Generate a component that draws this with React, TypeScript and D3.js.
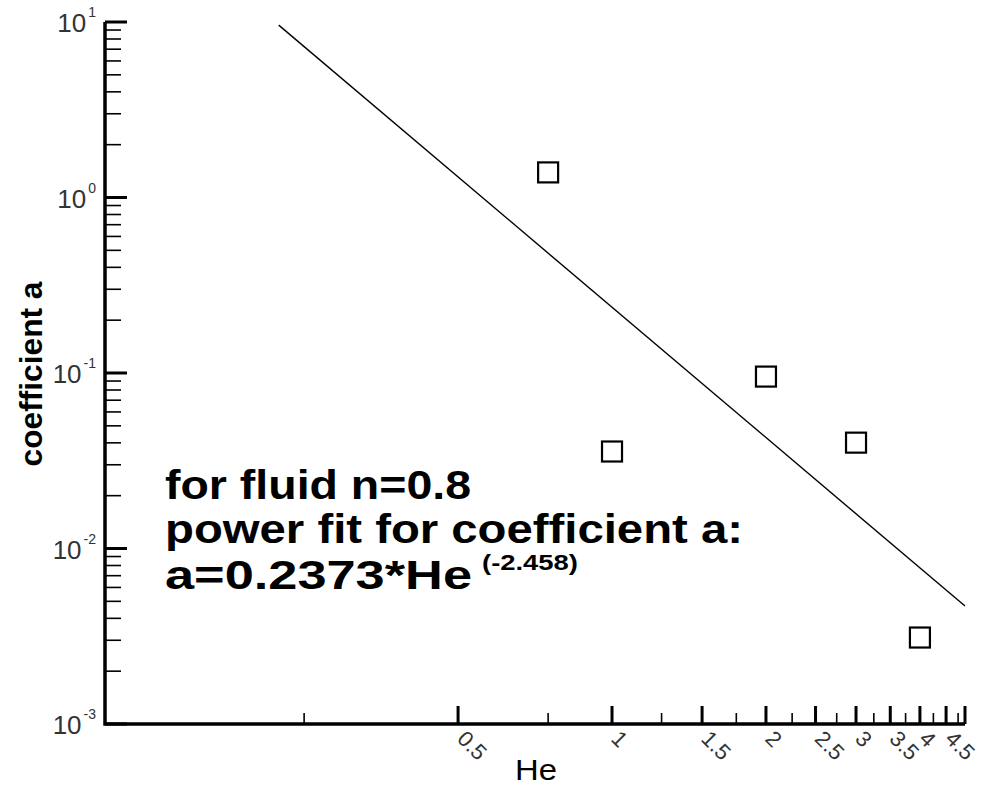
import React, { useEffect, useRef } from "react"
import * as d3 from "d3"

// measured points (He, coefficient a)
const heValues = [0.75, 1, 2, 3, 4]
const coeffValues = [1.39, 0.0357, 0.0954, 0.0401, 0.00311]

// power-fit line end points
const fitHe = [0.223, 4.9]
const fitA = [9.6, 0.0047]

const xMajorTicks = [0.5, 1, 1.5, 2, 2.5, 3, 3.5, 4, 4.5]
const xTickLabels = ["0.5", "1", "1.5", "2", "2.5", "3", "3.5", "4", "4.5"]
const xMinorTicks = [0.25, 0.75, 1.25, 1.75, 2.25, 2.75, 3.25, 3.75, 4.25, 4.75]
const yDecades = [-3, -2, -1, 0, 1]

const noteLines = ["for fluid n=0.8", "power fit for coefficient a:"]
const fitLabel = "a=0.2373*He"
const fitExponent = "(-2.458)"

const W = 981
const H = 790

const App = () => {
  const ref = useRef(null)

  useEffect(() => {
    const svg = d3.select(ref.current)
    svg.selectAll("*").remove()

    const x = d3.scaleLog().domain([0.102, 4.9]).range([105, 965])
    const y = d3.scaleLog().domain([1e-3, 1e1]).range([724, 22])

    const font = "'Liberation Sans', Arial, sans-serif"
    const g = svg.append("g")

    // y axis minor ticks
    const yMinor = []
    yDecades.slice(0, -1).forEach((p) => {
      for (let k = 2; k <= 9; k++) yMinor.push(k * Math.pow(10, p))
    })
    g.selectAll(".yminor")
      .data(yMinor)
      .join("line")
      .attr("x1", x.range()[0])
      .attr("x2", x.range()[0] + 16)
      .attr("y1", (d) => y(d))
      .attr("y2", (d) => y(d))
      .attr("stroke", "#000")
      .attr("stroke-width", 1.6)

    g.selectAll(".ymajor")
      .data(yDecades)
      .join("line")
      .attr("x1", x.range()[0])
      .attr("x2", x.range()[0] + 22)
      .attr("y1", (d) => y(Math.pow(10, d)))
      .attr("y2", (d) => y(Math.pow(10, d)))
      .attr("stroke", "#000")
      .attr("stroke-width", 3)

    // y tick labels 10^n
    const yl = g
      .selectAll(".ylabel")
      .data(yDecades)
      .join("text")
      .attr("x", 96)
      .attr("y", (d) => y(Math.pow(10, d)) + 10)
      .attr("text-anchor", "end")
      .attr("font-family", font)
      .attr("fill", "#333")
    yl.append("tspan").attr("font-size", 26).text("10")
    yl.append("tspan")
      .attr("font-size", 14)
      .attr("dx", 2)
      .attr("dy", -15)
      .text((d) => String(d))

    // x axis ticks
    g.selectAll(".xminor")
      .data(xMinorTicks)
      .join("line")
      .attr("x1", (d) => x(d))
      .attr("x2", (d) => x(d))
      .attr("y1", y.range()[0])
      .attr("y2", y.range()[0] - 11)
      .attr("stroke", "#000")
      .attr("stroke-width", 1.6)

    g.selectAll(".xmajor")
      .data(xMajorTicks)
      .join("line")
      .attr("x1", (d) => x(d))
      .attr("x2", (d) => x(d))
      .attr("y1", y.range()[0])
      .attr("y2", y.range()[0] - 18)
      .attr("stroke", "#000")
      .attr("stroke-width", 3)

    g.selectAll(".xlabel")
      .data(xMajorTicks)
      .join("text")
      .attr("transform", (d) => `translate(${x(d) - 2},${740}) rotate(45)`)
      .attr("font-family", font)
      .attr("font-size", 22)
      .attr("fill", "#333")
      .text((d, i) => xTickLabels[i])

    // axis lines
    g.append("path")
      .attr("d", `M${x.range()[0]},${y.range()[1]} V${y.range()[0]} H${x.range()[1]}`)
      .attr("fill", "none")
      .attr("stroke", "#000")
      .attr("stroke-width", 3.5)
    g.append("line")
      .attr("x1", x.range()[1])
      .attr("x2", x.range()[1])
      .attr("y1", y.range()[0])
      .attr("y2", y.range()[0] - 18)
      .attr("stroke", "#000")
      .attr("stroke-width", 3)

    // fit line
    const line = d3
      .line()
      .x((d) => x(d[0]))
      .y((d) => y(d[1]))
    g.append("path")
      .datum(d3.zip(fitHe, fitA))
      .attr("d", line)
      .attr("fill", "none")
      .attr("stroke", "#000")
      .attr("stroke-width", 1.4)

    // data squares
    const s = 20
    g.selectAll(".pt")
      .data(d3.zip(heValues, coeffValues))
      .join("rect")
      .attr("x", (d) => x(d[0]) - s / 2)
      .attr("y", (d) => y(d[1]) - s / 2)
      .attr("width", s)
      .attr("height", s)
      .attr("fill", "none")
      .attr("stroke", "#000")
      .attr("stroke-width", 2.2)

    // axis titles
    g.append("text")
      .attr("transform", "translate(42,374) rotate(-90)")
      .attr("text-anchor", "middle")
      .attr("font-family", font)
      .attr("font-weight", "bold")
      .attr("font-size", 31)
      .attr("textLength", 185)
      .attr("lengthAdjust", "spacingAndGlyphs")
      .text("coefficient a")

    g.append("text")
      .attr("x", 515)
      .attr("y", 780)
      .attr("font-family", font)
      .attr("font-size", 30)
      .attr("textLength", 42)
      .attr("lengthAdjust", "spacingAndGlyphs")
      .text("He")

    // annotation
    const noteLengths = [306, 578]
    g.selectAll(".note")
      .data(noteLines)
      .join("text")
      .attr("x", 165)
      .attr("y", (d, i) => 499 + i * 44)
      .attr("font-family", font)
      .attr("font-weight", "bold")
      .attr("font-size", 40)
      .attr("textLength", (d, i) => noteLengths[i])
      .attr("lengthAdjust", "spacingAndGlyphs")
      .text((d) => d)

    g.append("text")
      .attr("x", 165)
      .attr("y", 589)
      .attr("font-family", font)
      .attr("font-weight", "bold")
      .attr("font-size", 40)
      .attr("textLength", 307)
      .attr("lengthAdjust", "spacingAndGlyphs")
      .text(fitLabel)
    g.append("text")
      .attr("x", 482)
      .attr("y", 570)
      .attr("font-family", font)
      .attr("font-weight", "bold")
      .attr("font-size", 22)
      .attr("textLength", 96)
      .attr("lengthAdjust", "spacingAndGlyphs")
      .text(fitExponent)
  }, [])

  return (
    <svg
      ref={ref}
      width={W}
      height={H}
      style={{ position: "absolute", left: 0, top: 0, background: "#fff" }}
    ></svg>
  )
}

export default App
